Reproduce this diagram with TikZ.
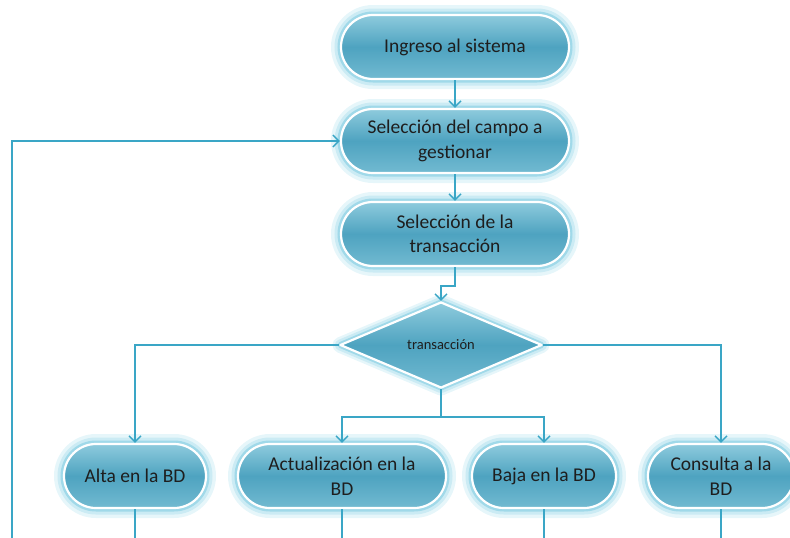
\documentclass[tikz,border=0pt]{standalone}
\usepackage{fontspec}
\setmainfont{Carlito}
\usetikzlibrary{shapes.geometric,arrows.meta}
\definecolor{lineC}{HTML}{3AA6C6}
\definecolor{glowO}{HTML}{E6F6FA}
\definecolor{glowA}{HTML}{CBEBF4}
\definecolor{glowB}{HTML}{A0D9E9}
\definecolor{fillTop}{HTML}{8ECBDD}
\definecolor{fillMid}{HTML}{4EA3C0}
\definecolor{fillBot}{HTML}{72BAD1}
\definecolor{txt}{HTML}{1E1E1E}
\tikzset{
  glowbox/.style={rounded corners=32pt, minimum height=64pt, inner sep=2pt,
    align=center, text=txt, font=\fontsize{19.5}{24.5}\selectfont,
    preaction={draw=glowO, line width=20pt},
    preaction={draw=glowA, line width=13pt},
    preaction={draw=glowB, line width=7pt},
    top color=fillTop, bottom color=fillBot, middle color=fillMid,
    draw=white, line width=2.2pt},
  decision/.style={diamond, aspect=2.35, minimum width=202pt, minimum height=86pt,
    inner sep=0pt, text=txt, font=\fontsize{14.5}{17}\selectfont, line join=round,
    preaction={draw=glowO, line width=16pt},
    preaction={draw=glowA, line width=11pt},
    preaction={draw=glowB, line width=6pt},
    top color=fillTop, bottom color=fillBot, middle color=fillMid,
    draw=white, line width=2.2pt},
  conn/.style={draw=lineC, line width=1.4pt},
  arr/.style={conn, -{Straight Barb[length=6pt,width=12pt,line width=1.4pt]}},
}
\begin{document}
\begin{tikzpicture}[x=1pt,y=-1pt]
\useasboundingbox (0,0) rectangle (790,538);
\clip (0,0) rectangle (790,538);
\node[glowbox, minimum width=228pt] (b1) at (455,47) {Ingreso al sistema};
\node[glowbox, minimum width=228pt] (b2) at (455,141) {Selección del campo a\\gestionar};
\node[glowbox, minimum width=228pt] (b3) at (455,234) {Selección de la\\transacción};
\node[decision] (d) at (441,345) {transacción};
\node[glowbox, minimum width=142pt] (alta) at (135,476) {Alta en la BD};
\node[glowbox, minimum width=208pt] (act) at (342,476) {Actualización en la\\BD};
\node[glowbox, minimum width=144pt] (baja) at (544,476) {Baja en la BD};
\node[glowbox, minimum width=146pt] (cons) at (721,476) {Consulta a la\\BD};
\coordinate (loopstart) at (12,538);
\coordinate (ealta) at (135,538);
\coordinate (eact) at (342,538);
\coordinate (ebaja) at (544,538);
\coordinate (econs) at (721,538);
\coordinate (split) at (441,417);
\draw[arr] (b1.south) -- (b2.north);
\draw[arr] (b2.south) -- (b3.north);
\draw[arr] (b3.south) -- ++(0,19) -| (d.north);
\draw[arr] (d.west) -| (alta.north);
\draw[arr] (d.east) -| (cons.north);
\draw[conn] (d.south) -- (split);
\draw[arr] (split) -| (act.north);
\draw[arr] (split) -| (baja.north);
\draw[arr] (loopstart) |- (b2.west);
\draw[conn] (alta.south) -- (ealta);
\draw[conn] (act.south) -- (eact);
\draw[conn] (baja.south) -- (ebaja);
\draw[conn] (cons.south) -- (econs);
\end{tikzpicture}
\end{document}
